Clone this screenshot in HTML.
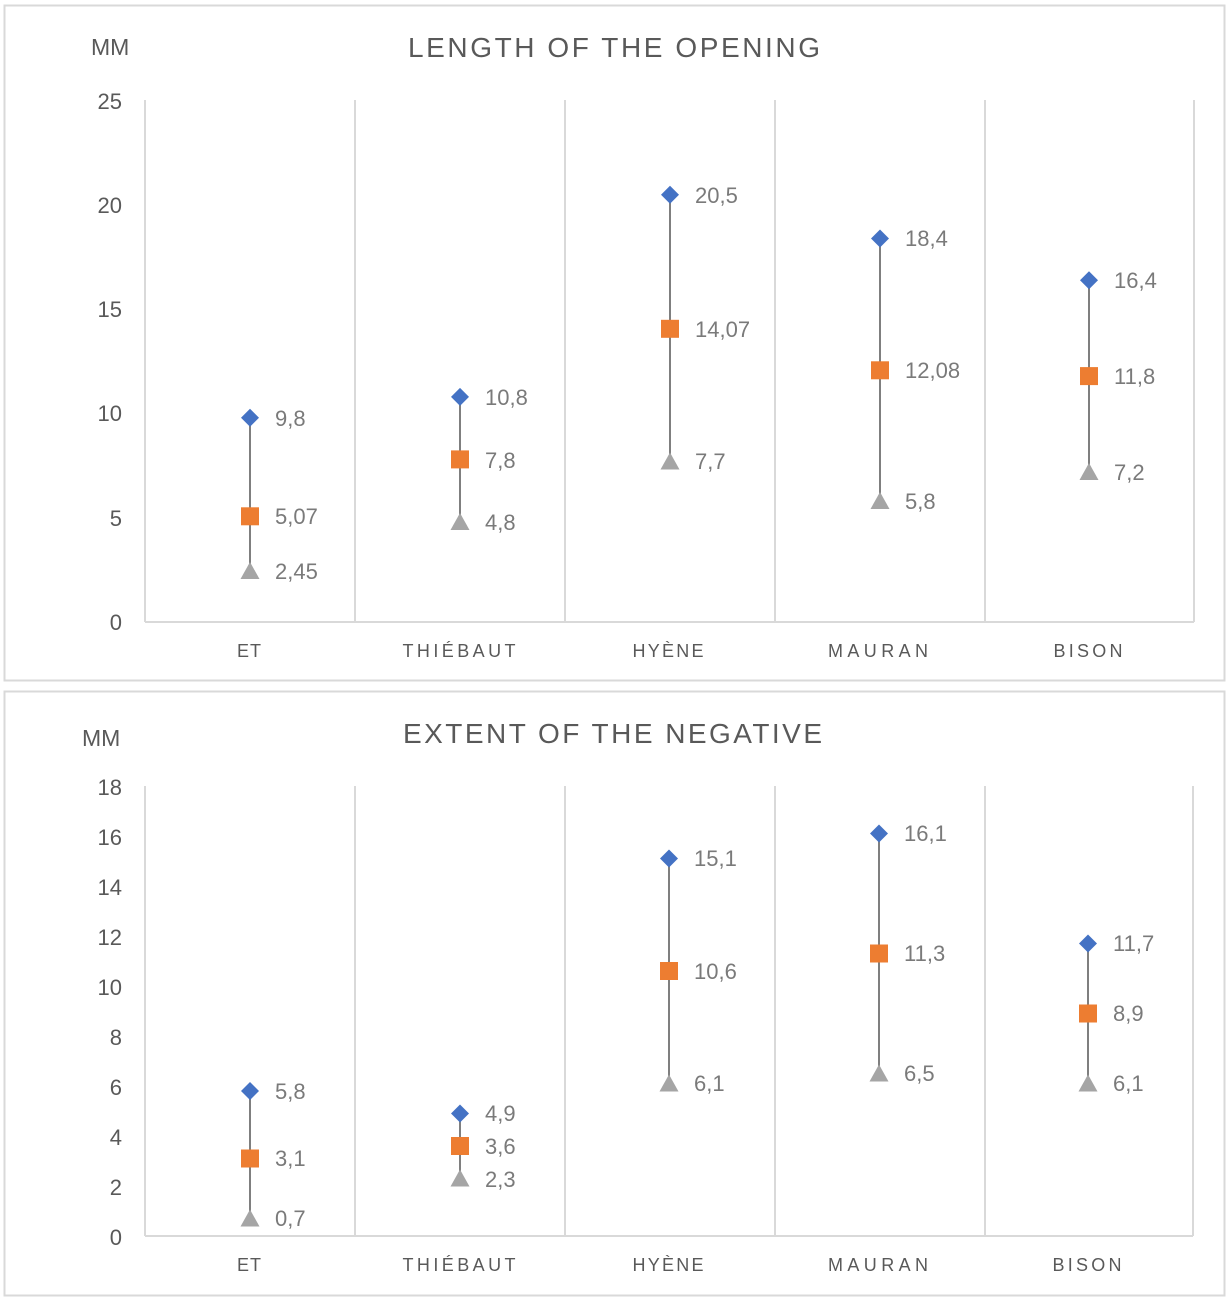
<!DOCTYPE html>
<html>
<head>
<meta charset="utf-8">
<style>
  html,body{margin:0;padding:0;background:#fff;}
  svg{display:block;}
  text{font-family:"Liberation Sans",sans-serif;fill:#595959;}
  .tick{font-size:22px;text-anchor:end;fill:#595959;}
  .dl{font-size:22px;fill:#7a7a7a;}
  .cat{font-size:18px;text-anchor:middle;fill:#595959;}
  .ttl{font-size:28px;fill:#595959;}
  .mm{font-size:23px;fill:#595959;}
</style>
</head>
<body>
<svg width="1230" height="1300" viewBox="0 0 1230 1300" xmlns="http://www.w3.org/2000/svg">
  <rect x="0" y="0" width="1230" height="1300" fill="#fff"/>
  <rect x="4.5" y="5.5" width="1220" height="675" fill="#fff" stroke="#d9d9d9" stroke-width="2"/>
  <rect x="4.5" y="691.5" width="1220" height="604" fill="#fff" stroke="#d9d9d9" stroke-width="2"/>

  <!-- ===== TOP CHART ===== -->
  <text x="91" y="55" class="mm">MM</text>
  <text x="408" y="57" class="ttl" textLength="412" lengthAdjust="spacing">LENGTH OF THE OPENING</text>
  <g stroke="#d9d9d9" stroke-width="2">
    <line x1="145" y1="100" x2="145" y2="622"/>
    <line x1="355" y1="100" x2="355" y2="622"/>
    <line x1="565" y1="100" x2="565" y2="622"/>
    <line x1="775" y1="100" x2="775" y2="622"/>
    <line x1="985" y1="100" x2="985" y2="622"/>
    <line x1="1194" y1="100" x2="1194" y2="622"/>
    <line x1="145" y1="622" x2="1194" y2="622"/>
  </g>
  <g>
    <text x="122" y="109" class="tick">25</text>
    <text x="122" y="213" class="tick">20</text>
    <text x="122" y="317" class="tick">15</text>
    <text x="122" y="421" class="tick">10</text>
    <text x="122" y="526" class="tick">5</text>
    <text x="122" y="630" class="tick">0</text>
  </g>
  <g>
    <text x="249" y="657" class="cat" textLength="24" lengthAdjust="spacing">ET</text>
    <text x="459" y="657" class="cat" textLength="113" lengthAdjust="spacing">THIÉBAUT</text>
    <text x="668" y="657" class="cat" textLength="71" lengthAdjust="spacing">HYÈNE</text>
    <text x="878" y="657" class="cat" textLength="100" lengthAdjust="spacing">MAURAN</text>
    <text x="1088" y="657" class="cat" textLength="69" lengthAdjust="spacing">BISON</text>
  </g>
  <g stroke="#7f7f7f" stroke-width="2">
    <line x1="250" y1="417.8" x2="250" y2="570.9"/>
    <line x1="460" y1="396.9" x2="460" y2="522"/>
    <line x1="670" y1="194.8" x2="670" y2="461.5"/>
    <line x1="880" y1="238.5" x2="880" y2="501.1"/>
    <line x1="1089" y1="280.2" x2="1089" y2="471.9"/>
  </g>
  <g fill="#4472c4">
    <polygon points="250,408.8 259,417.8 250,426.8 241,417.8"/>
    <polygon points="460,387.9 469,396.9 460,405.9 451,396.9"/>
    <polygon points="670,185.8 679,194.8 670,203.8 661,194.8"/>
    <polygon points="880,229.5 889,238.5 880,247.5 871,238.5"/>
    <polygon points="1089,271.2 1098,280.2 1089,289.2 1080,280.2"/>
  </g>
  <g fill="#ed7d31">
    <rect x="241" y="507.3" width="18" height="18"/>
    <rect x="451" y="450.4" width="18" height="18"/>
    <rect x="661" y="319.8" width="18" height="18"/>
    <rect x="871" y="361.3" width="18" height="18"/>
    <rect x="1080" y="367.1" width="18" height="18"/>
  </g>
  <g fill="#a5a5a5">
    <polygon points="250,562 259.5,579 240.5,579"/>
    <polygon points="460,513 469.5,530 450.5,530"/>
    <polygon points="670,452.5 679.5,469.5 660.5,469.5"/>
    <polygon points="880,492 889.5,509 870.5,509"/>
    <polygon points="1089,463 1098.5,480 1079.5,480"/>
  </g>
  <g>
    <text x="275" y="426" class="dl">9,8</text>
    <text x="275" y="524" class="dl">5,07</text>
    <text x="275" y="579" class="dl">2,45</text>
    <text x="485" y="405" class="dl">10,8</text>
    <text x="485" y="468" class="dl">7,8</text>
    <text x="485" y="530" class="dl">4,8</text>
    <text x="695" y="203" class="dl">20,5</text>
    <text x="695" y="337" class="dl">14,07</text>
    <text x="695" y="469" class="dl">7,7</text>
    <text x="905" y="246" class="dl">18,4</text>
    <text x="905" y="378" class="dl">12,08</text>
    <text x="905" y="509" class="dl">5,8</text>
    <text x="1114" y="288" class="dl">16,4</text>
    <text x="1114" y="384" class="dl">11,8</text>
    <text x="1114" y="480" class="dl">7,2</text>
  </g>

  <!-- ===== BOTTOM CHART ===== -->
  <text x="82" y="746" class="mm">MM</text>
  <text x="403" y="743" class="ttl" textLength="419" lengthAdjust="spacing">EXTENT OF THE NEGATIVE</text>
  <g stroke="#d9d9d9" stroke-width="2">
    <line x1="145" y1="786" x2="145" y2="1236"/>
    <line x1="355" y1="786" x2="355" y2="1236"/>
    <line x1="565" y1="786" x2="565" y2="1236"/>
    <line x1="775" y1="786" x2="775" y2="1236"/>
    <line x1="985" y1="786" x2="985" y2="1236"/>
    <line x1="1193" y1="786" x2="1193" y2="1236"/>
    <line x1="145" y1="1236" x2="1193" y2="1236"/>
  </g>
  <g>
    <text x="122" y="795" class="tick">18</text>
    <text x="122" y="845" class="tick">16</text>
    <text x="122" y="895" class="tick">14</text>
    <text x="122" y="945" class="tick">12</text>
    <text x="122" y="995" class="tick">10</text>
    <text x="122" y="1045" class="tick">8</text>
    <text x="122" y="1095" class="tick">6</text>
    <text x="122" y="1145" class="tick">4</text>
    <text x="122" y="1195" class="tick">2</text>
    <text x="122" y="1245" class="tick">0</text>
  </g>
  <g>
    <text x="249" y="1271" class="cat" textLength="24" lengthAdjust="spacing">ET</text>
    <text x="459" y="1271" class="cat" textLength="113" lengthAdjust="spacing">THIÉBAUT</text>
    <text x="668" y="1271" class="cat" textLength="71" lengthAdjust="spacing">HYÈNE</text>
    <text x="878" y="1271" class="cat" textLength="100" lengthAdjust="spacing">MAURAN</text>
    <text x="1087" y="1271" class="cat" textLength="69" lengthAdjust="spacing">BISON</text>
  </g>
  <g stroke="#7f7f7f" stroke-width="2">
    <line x1="250" y1="1091" x2="250" y2="1218.5"/>
    <line x1="460" y1="1113.5" x2="460" y2="1178.5"/>
    <line x1="669" y1="858.5" x2="669" y2="1083.5"/>
    <line x1="879" y1="833.5" x2="879" y2="1073.5"/>
    <line x1="1088" y1="943.5" x2="1088" y2="1083.5"/>
  </g>
  <g fill="#4472c4">
    <polygon points="250,1082 259,1091 250,1100 241,1091"/>
    <polygon points="460,1104.5 469,1113.5 460,1122.5 451,1113.5"/>
    <polygon points="669,849.5 678,858.5 669,867.5 660,858.5"/>
    <polygon points="879,824.5 888,833.5 879,842.5 870,833.5"/>
    <polygon points="1088,934.5 1097,943.5 1088,952.5 1079,943.5"/>
  </g>
  <g fill="#ed7d31">
    <rect x="241" y="1149.5" width="18" height="18"/>
    <rect x="451" y="1137" width="18" height="18"/>
    <rect x="660" y="962" width="18" height="18"/>
    <rect x="870" y="944.5" width="18" height="18"/>
    <rect x="1079" y="1004.5" width="18" height="18"/>
  </g>
  <g fill="#a5a5a5">
    <polygon points="250,1209.5 259.5,1226.5 240.5,1226.5"/>
    <polygon points="460,1169.5 469.5,1186.5 450.5,1186.5"/>
    <polygon points="669,1074.5 678.5,1091.5 659.5,1091.5"/>
    <polygon points="879,1064.5 888.5,1081.5 869.5,1081.5"/>
    <polygon points="1088,1074.5 1097.5,1091.5 1078.5,1091.5"/>
  </g>
  <g>
    <text x="275" y="1099" class="dl">5,8</text>
    <text x="275" y="1166" class="dl">3,1</text>
    <text x="275" y="1226" class="dl">0,7</text>
    <text x="485" y="1121" class="dl">4,9</text>
    <text x="485" y="1154" class="dl">3,6</text>
    <text x="485" y="1187" class="dl">2,3</text>
    <text x="694" y="866" class="dl">15,1</text>
    <text x="694" y="979" class="dl">10,6</text>
    <text x="694" y="1091" class="dl">6,1</text>
    <text x="904" y="841" class="dl">16,1</text>
    <text x="904" y="961" class="dl">11,3</text>
    <text x="904" y="1081" class="dl">6,5</text>
    <text x="1113" y="951" class="dl">11,7</text>
    <text x="1113" y="1021" class="dl">8,9</text>
    <text x="1113" y="1091" class="dl">6,1</text>
  </g>
</svg>
</body>
</html>
